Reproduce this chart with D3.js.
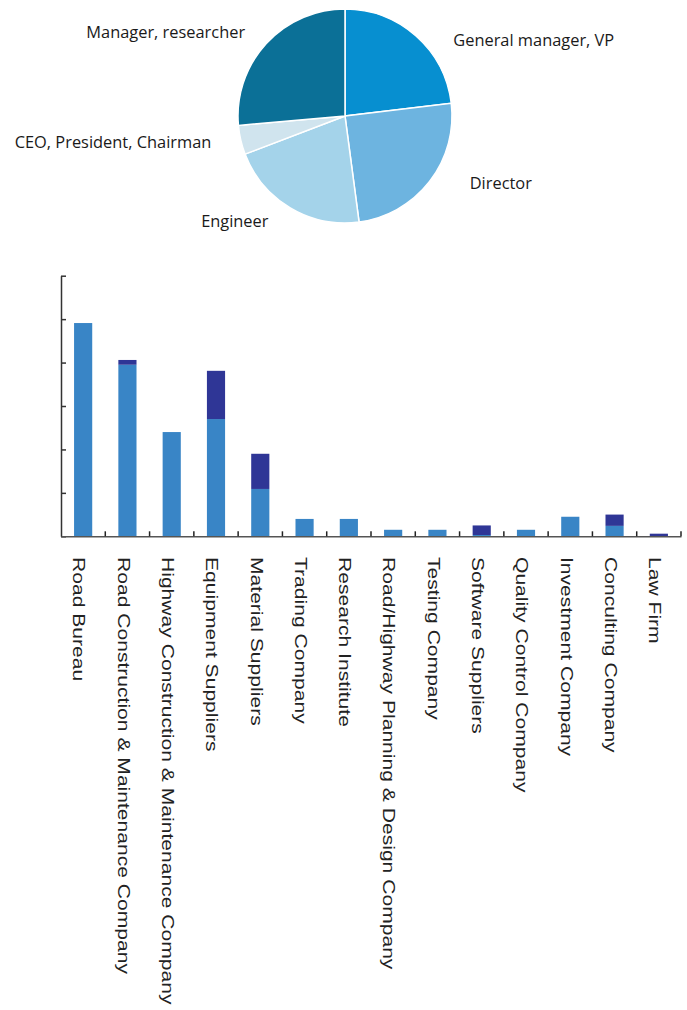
<!DOCTYPE html>
<html>
<head>
<meta charset="utf-8">
<script src="https://cdn.jsdelivr.net/npm/d3@7"></script>
<style>
  body { margin: 0; background: #fff; }
  .pieLabel { font-family: "Open Sans", sans-serif; font-size: 16.4px; fill: #1a1a1a; }
  .barLabel { font-family: "Liberation Sans", Arial, sans-serif; font-size: 16.6px; fill: #222; }
</style>
</head>
<body>
<div id="chart"></div>
<script>
// PIE DATA
var pieLabels = ["General manager, VP", "Director", "Engineer", "CEO, President, Chairman", "Manager, researcher"];
var pieValues = [23.1, 24.8, 21.3, 4.4, 26.4];
var pieColors = ["#078fd0", "#6db4e0", "#a4d3ea", "#d0e4ee", "#0b7097"];

// BAR DATA
var categories = ["Road Bureau", "Road Construction & Maintenance Company", "Highway Construction & Maintenance Company",
  "Equipment Suppliers", "Material Suppliers", "Trading Company", "Research Institute",
  "Road/Highway Planning & Design Company", "Testing Company", "Software Suppliers",
  "Quality Control Company", "Investment Company", "Conculting Company", "Law Firm"];
var lightValues = [49.1, 39.5, 24.0, 27.0, 10.9, 4.0, 4.0, 1.5, 1.5, 0.3, 1.5, 4.5, 2.4, 0];
var darkValues = [0, 1.1, 0, 11.1, 8.1, 0, 0, 0, 0, 2.2, 0, 0, 2.6, 0.6];
var yTicks = [0, 10, 20, 30, 40, 50, 60];

var svgWidth = 687;
var svgHeight = 1010;

var svg = d3.select("#chart")
  .append("svg")
  .attr("width", svgWidth)
  .attr("height", svgHeight);

// ---------- PIE ----------
var cx = 345, cy = 116, radius = 107;
// label nudges (layout only)
var labelNudge = [[22, 27], [22, -7], [-10, -1], [-7, 2.5], [-4, 10]];

var pie = d3.pie().sort(null).value(d => d)(pieValues);
var arc = d3.arc().innerRadius(0).outerRadius(radius);
var labelArc = d3.arc().innerRadius(130).outerRadius(130);

var pieGroup = svg.append("g")
  .attr("transform", `translate(${cx}, ${cy})`);

pieGroup.selectAll("path")
  .data(pie)
  .enter()
  .append("path")
  .attr("d", arc)
  .attr("fill", (d, i) => pieColors[i])
  .attr("stroke", "#fff")
  .attr("stroke-width", 1.5);

pieGroup.selectAll("text")
  .data(pie)
  .enter()
  .append("text")
  .attr("class", "pieLabel")
  .attr("x", (d, i) => labelArc.centroid(d)[0] + labelNudge[i][0])
  .attr("y", (d, i) => labelArc.centroid(d)[1] + labelNudge[i][1])
  .attr("text-anchor", d => labelArc.centroid(d)[0] > 0 ? "start" : "end")
  .text((d, i) => pieLabels[i]);

// ---------- BARS ----------
var xBand = d3.scaleBand()
  .domain(categories)
  .range([61, 681])
  .paddingInner(0.59)
  .paddingOuter(0.295);

var yLinear = d3.scaleLinear()
  .domain([0, 60])
  .range([536.3, 275.7]);

var step = xBand.step();

// light part
svg.append("g").selectAll("rect")
  .data(categories)
  .enter()
  .append("rect")
  .attr("x", d => xBand(d))
  .attr("width", xBand.bandwidth())
  .attr("y", (d, i) => yLinear(lightValues[i]))
  .attr("height", (d, i) => yLinear(0) - yLinear(lightValues[i]))
  .attr("fill", "#3985c6");

// dark part stacked on top
svg.append("g").selectAll("rect")
  .data(categories)
  .enter()
  .append("rect")
  .attr("x", d => xBand(d))
  .attr("width", xBand.bandwidth())
  .attr("y", (d, i) => yLinear(lightValues[i] + darkValues[i]))
  .attr("height", (d, i) => yLinear(lightValues[i]) - yLinear(lightValues[i] + darkValues[i]))
  .attr("fill", "#2f3696");

// Y AXIS (ticks inside, no labels)
var leftAxis = d3.axisLeft(yLinear)
  .tickValues(yTicks)
  .tickSizeInner(-5)
  .tickSizeOuter(0)
  .tickFormat("");

var yAxis = svg.append("g")
  .attr("transform", "translate(61, 0)")
  .call(leftAxis);
yAxis.selectAll("path, line").attr("stroke", "#333").attr("stroke-width", 1.5);

// X AXIS (ticks between bands, pointing up)
var bottomAxis = d3.axisBottom(xBand).tickSize(0).tickFormat("");
var xAxis = svg.append("g")
  .attr("transform", `translate(0, ${yLinear(0)})`)
  .call(bottomAxis);
xAxis.select(".domain").attr("stroke", "#555").attr("stroke-width", 1.5);

svg.append("g").selectAll("line")
  .data(categories)
  .enter()
  .append("line")
  .attr("x1", d => xBand(d) + xBand.bandwidth() / 2 + step / 2)
  .attr("x2", d => xBand(d) + xBand.bandwidth() / 2 + step / 2)
  .attr("y1", yLinear(0))
  .attr("y2", yLinear(0) - 5)
  .attr("stroke", "#222")
  .attr("stroke-width", 1.5);

// CATEGORY LABELS rotated
svg.append("g").selectAll("text")
  .data(categories)
  .enter()
  .append("text")
  .attr("class", "barLabel")
  .attr("transform", d => `translate(${xBand(d) + xBand.bandwidth() / 2}, 557) rotate(90) scale(1.27, 1)`)
  .attr("x", 0)
  .attr("y", 9.7)
  .text(d => d);
</script>
</body>
</html>
